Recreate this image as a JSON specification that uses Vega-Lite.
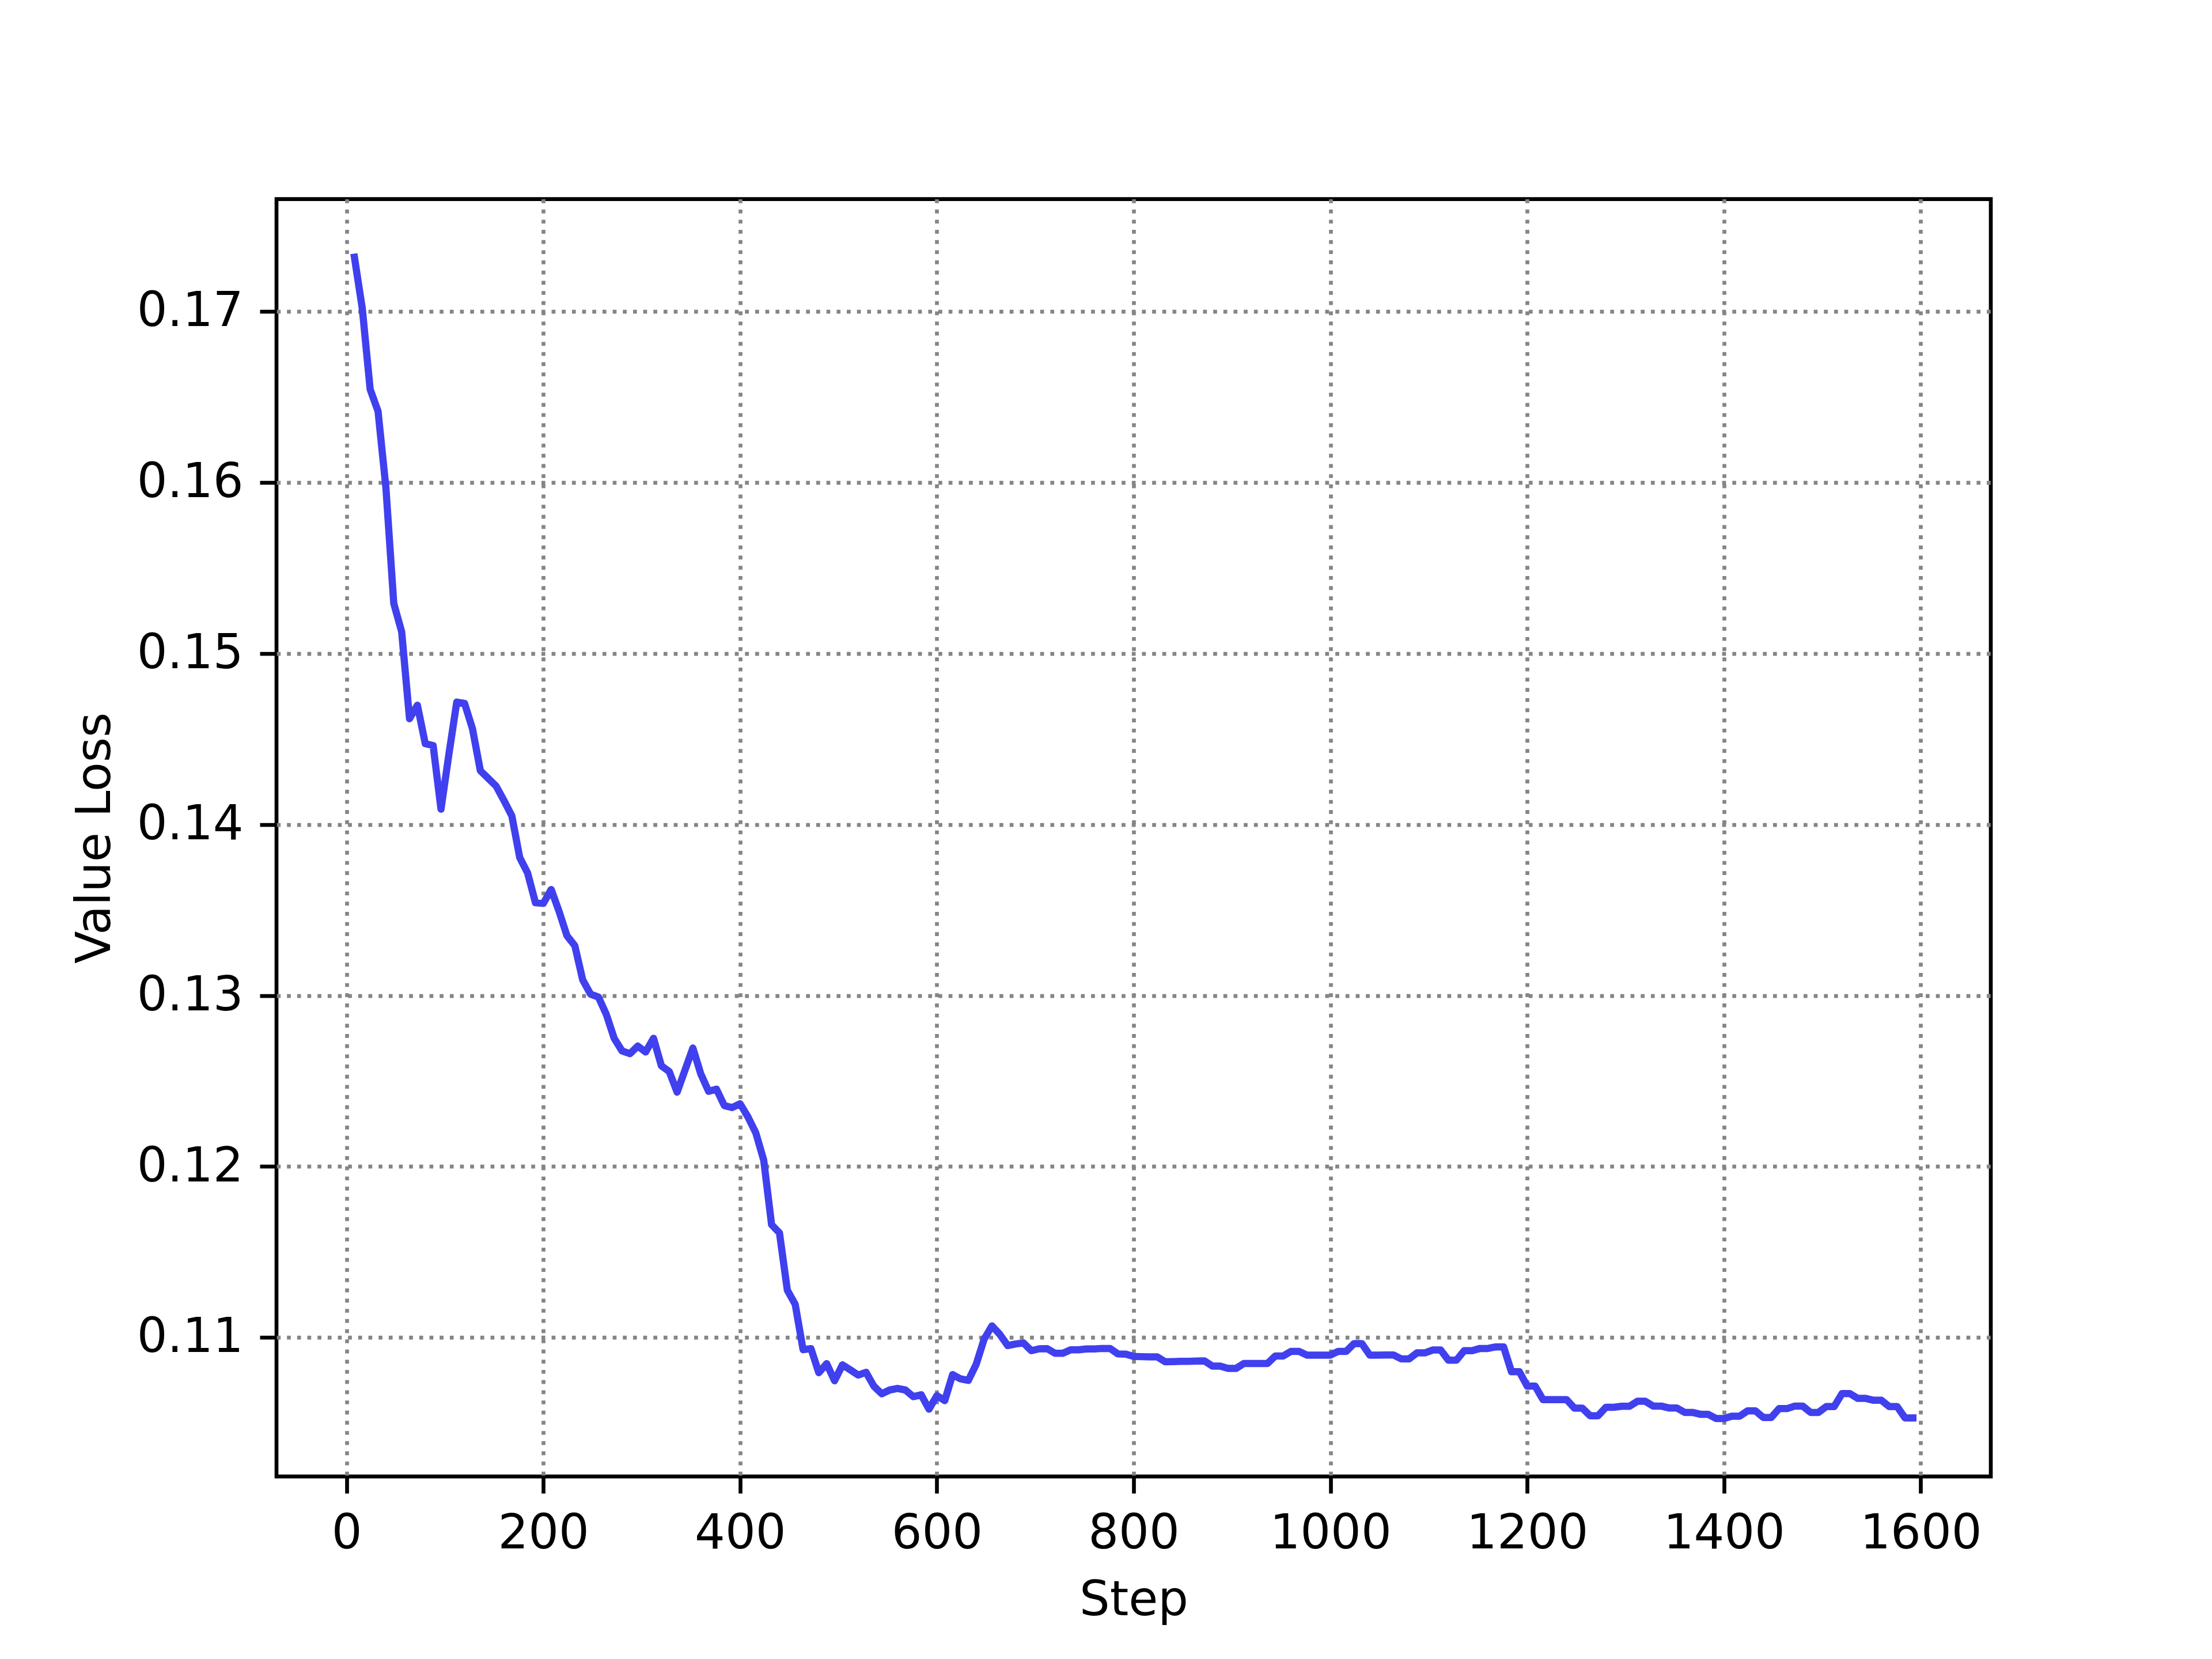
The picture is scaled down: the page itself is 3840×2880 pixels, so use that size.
{
  "$schema": "https://vega.github.io/schema/vega-lite/v6.json",
  "width": 2976,
  "height": 2217.6,
  "autosize": {"type": "none"},
  "padding": {"left": 480, "top": 345.6, "right": 384, "bottom": 316.8},
  "background": "white",
  "config": {
    "view": {"stroke": "black", "strokeWidth": 6.67},
    "font": "DejaVu Sans"
  },
  "data": {
    "values": [
      {"step": 8, "loss": 0.17318}, {"step": 16, "loss": 0.17018}, {"step": 24, "loss": 0.16545}, {"step": 32, "loss": 0.16417},
      {"step": 40, "loss": 0.1597}, {"step": 48, "loss": 0.15293}, {"step": 56, "loss": 0.15128}, {"step": 64, "loss": 0.14619},
      {"step": 72, "loss": 0.14698}, {"step": 80, "loss": 0.14473}, {"step": 88, "loss": 0.14462}, {"step": 96, "loss": 0.1409},
      {"step": 104, "loss": 0.1441}, {"step": 112, "loss": 0.14716}, {"step": 120, "loss": 0.14708}, {"step": 128, "loss": 0.1456},
      {"step": 136, "loss": 0.14315}, {"step": 144, "loss": 0.1427}, {"step": 152, "loss": 0.14225}, {"step": 160, "loss": 0.1414},
      {"step": 168, "loss": 0.14051}, {"step": 176, "loss": 0.13807}, {"step": 184, "loss": 0.13717}, {"step": 192, "loss": 0.13543},
      {"step": 200, "loss": 0.13539}, {"step": 208, "loss": 0.1362}, {"step": 216, "loss": 0.13492}, {"step": 224, "loss": 0.1335},
      {"step": 232, "loss": 0.13292}, {"step": 240, "loss": 0.13092}, {"step": 248, "loss": 0.13008}, {"step": 256, "loss": 0.12991},
      {"step": 264, "loss": 0.1289}, {"step": 272, "loss": 0.1275}, {"step": 280, "loss": 0.12676}, {"step": 288, "loss": 0.1266},
      {"step": 296, "loss": 0.12704}, {"step": 304, "loss": 0.1267}, {"step": 312, "loss": 0.1275}, {"step": 320, "loss": 0.12589},
      {"step": 328, "loss": 0.12555}, {"step": 336, "loss": 0.12435}, {"step": 344, "loss": 0.12564}, {"step": 352, "loss": 0.12693},
      {"step": 360, "loss": 0.12542}, {"step": 368, "loss": 0.1244}, {"step": 376, "loss": 0.12452}, {"step": 384, "loss": 0.12356},
      {"step": 392, "loss": 0.12345}, {"step": 400, "loss": 0.12367}, {"step": 408, "loss": 0.1229}, {"step": 416, "loss": 0.12196},
      {"step": 424, "loss": 0.12037}, {"step": 432, "loss": 0.1166}, {"step": 440, "loss": 0.11612}, {"step": 448, "loss": 0.11277},
      {"step": 456, "loss": 0.11194}, {"step": 464, "loss": 0.10929}, {"step": 472, "loss": 0.10935}, {"step": 480, "loss": 0.10794},
      {"step": 488, "loss": 0.10847}, {"step": 496, "loss": 0.10747}, {"step": 504, "loss": 0.1084}, {"step": 512, "loss": 0.10811},
      {"step": 520, "loss": 0.1078}, {"step": 528, "loss": 0.10796}, {"step": 536, "loss": 0.10715}, {"step": 544, "loss": 0.10671},
      {"step": 552, "loss": 0.10693}, {"step": 560, "loss": 0.10702}, {"step": 568, "loss": 0.10693}, {"step": 576, "loss": 0.10654},
      {"step": 584, "loss": 0.10665}, {"step": 592, "loss": 0.10581}, {"step": 600, "loss": 0.1066}, {"step": 608, "loss": 0.10631},
      {"step": 616, "loss": 0.10783}, {"step": 624, "loss": 0.10758}, {"step": 632, "loss": 0.10749}, {"step": 640, "loss": 0.10844},
      {"step": 648, "loss": 0.1099}, {"step": 656, "loss": 0.11068}, {"step": 664, "loss": 0.11018}, {"step": 672, "loss": 0.10953},
      {"step": 680, "loss": 0.10962}, {"step": 688, "loss": 0.10968}, {"step": 696, "loss": 0.10923}, {"step": 704, "loss": 0.10934},
      {"step": 712, "loss": 0.10935}, {"step": 720, "loss": 0.10908}, {"step": 728, "loss": 0.10908}, {"step": 736, "loss": 0.10928},
      {"step": 744, "loss": 0.10928}, {"step": 752, "loss": 0.10933}, {"step": 760, "loss": 0.10933}, {"step": 768, "loss": 0.10936},
      {"step": 776, "loss": 0.10936}, {"step": 784, "loss": 0.10904}, {"step": 792, "loss": 0.10903}, {"step": 800, "loss": 0.10889},
      {"step": 808, "loss": 0.10888}, {"step": 816, "loss": 0.10887}, {"step": 824, "loss": 0.10887}, {"step": 832, "loss": 0.10858},
      {"step": 840, "loss": 0.10859}, {"step": 848, "loss": 0.10861}, {"step": 856, "loss": 0.10861}, {"step": 864, "loss": 0.10862},
      {"step": 872, "loss": 0.10863}, {"step": 880, "loss": 0.10833}, {"step": 888, "loss": 0.10833}, {"step": 896, "loss": 0.10819},
      {"step": 904, "loss": 0.10819}, {"step": 912, "loss": 0.10848}, {"step": 920, "loss": 0.10848}, {"step": 928, "loss": 0.10848},
      {"step": 936, "loss": 0.10848}, {"step": 944, "loss": 0.10892}, {"step": 952, "loss": 0.10892}, {"step": 960, "loss": 0.10919},
      {"step": 968, "loss": 0.10919}, {"step": 976, "loss": 0.10897}, {"step": 984, "loss": 0.10897}, {"step": 992, "loss": 0.10897},
      {"step": 1000, "loss": 0.10897}, {"step": 1008, "loss": 0.10919}, {"step": 1016, "loss": 0.10919}, {"step": 1024, "loss": 0.10964},
      {"step": 1032, "loss": 0.10964}, {"step": 1040, "loss": 0.10897}, {"step": 1048, "loss": 0.10897}, {"step": 1056, "loss": 0.10898},
      {"step": 1064, "loss": 0.10898}, {"step": 1072, "loss": 0.10875}, {"step": 1080, "loss": 0.10875}, {"step": 1088, "loss": 0.1091},
      {"step": 1096, "loss": 0.1091}, {"step": 1104, "loss": 0.10927}, {"step": 1112, "loss": 0.10927}, {"step": 1120, "loss": 0.10867},
      {"step": 1128, "loss": 0.10867}, {"step": 1136, "loss": 0.10923}, {"step": 1144, "loss": 0.10923}, {"step": 1152, "loss": 0.10936},
      {"step": 1160, "loss": 0.10936}, {"step": 1168, "loss": 0.10945}, {"step": 1176, "loss": 0.10945}, {"step": 1184, "loss": 0.108},
      {"step": 1192, "loss": 0.108}, {"step": 1200, "loss": 0.10716}, {"step": 1208, "loss": 0.10716}, {"step": 1216, "loss": 0.10637},
      {"step": 1224, "loss": 0.10637}, {"step": 1232, "loss": 0.10637}, {"step": 1240, "loss": 0.10637}, {"step": 1248, "loss": 0.10587},
      {"step": 1256, "loss": 0.10587}, {"step": 1264, "loss": 0.10542}, {"step": 1272, "loss": 0.10542}, {"step": 1280, "loss": 0.10592},
      {"step": 1288, "loss": 0.10592}, {"step": 1296, "loss": 0.10598}, {"step": 1304, "loss": 0.10598}, {"step": 1312, "loss": 0.10627},
      {"step": 1320, "loss": 0.10627}, {"step": 1328, "loss": 0.10599}, {"step": 1336, "loss": 0.10599}, {"step": 1344, "loss": 0.10588},
      {"step": 1352, "loss": 0.10588}, {"step": 1360, "loss": 0.10562}, {"step": 1368, "loss": 0.10562}, {"step": 1376, "loss": 0.10551},
      {"step": 1384, "loss": 0.10551}, {"step": 1392, "loss": 0.10526}, {"step": 1400, "loss": 0.10526}, {"step": 1408, "loss": 0.1054},
      {"step": 1416, "loss": 0.1054}, {"step": 1424, "loss": 0.10571}, {"step": 1432, "loss": 0.10571}, {"step": 1440, "loss": 0.10532},
      {"step": 1448, "loss": 0.10532}, {"step": 1456, "loss": 0.10584}, {"step": 1464, "loss": 0.10584}, {"step": 1472, "loss": 0.10599},
      {"step": 1480, "loss": 0.10599}, {"step": 1488, "loss": 0.10562}, {"step": 1496, "loss": 0.10562}, {"step": 1504, "loss": 0.10596},
      {"step": 1512, "loss": 0.10596}, {"step": 1520, "loss": 0.10672}, {"step": 1528, "loss": 0.10672}, {"step": 1536, "loss": 0.10644},
      {"step": 1544, "loss": 0.10644}, {"step": 1552, "loss": 0.10633}, {"step": 1560, "loss": 0.10633}, {"step": 1568, "loss": 0.10596},
      {"step": 1576, "loss": 0.10596}, {"step": 1584, "loss": 0.1053}, {"step": 1592, "loss": 0.1053}
    ]
  },
  "mark": {"type": "line", "color": "#4040EE", "strokeWidth": 12.5, "strokeCap": "square", "strokeJoin": "round"},
  "encoding": {
    "x": {
      "field": "step", "type": "quantitative",
      "scale": {"domain": [-71.2, 1671.2], "nice": false, "zero": false},
      "axis": {
        "values": [0, 200, 400, 600, 800, 1000, 1200, 1400, 1600],
        "format": "d",
        "title": "Step",
        "grid": true, "gridColor": "#858585", "gridDash": [6.67, 11], "gridWidth": 6.67,
        "domain": false,
        "ticks": true, "tickSize": 29, "tickWidth": 6.67, "tickColor": "black",
        "labelFont": "DejaVu Sans", "labelFontSize": 83, "labelColor": "black", "labelPadding": 29,
        "labelFlush": false, "labelOverlap": false, "labelLimit": 2000,
        "titleFont": "DejaVu Sans", "titleFontSize": 83, "titleFontWeight": "normal", "titleColor": "black", "titlePadding": 33
      }
    },
    "y": {
      "field": "loss", "type": "quantitative",
      "scale": {"domain": [0.10187, 0.17658], "nice": false, "zero": false},
      "axis": {
        "values": [0.11, 0.12, 0.13, 0.14, 0.15, 0.16, 0.17],
        "format": ".2f",
        "title": "Value Loss",
        "grid": true, "gridColor": "#858585", "gridDash": [6.67, 11], "gridWidth": 6.67,
        "domain": false,
        "ticks": true, "tickSize": 29, "tickWidth": 6.67, "tickColor": "black",
        "labelFont": "DejaVu Sans", "labelFontSize": 83, "labelColor": "black", "labelPadding": 29,
        "labelFlush": false, "labelOverlap": false, "labelLimit": 2000,
        "titleFont": "DejaVu Sans", "titleFontSize": 83, "titleFontWeight": "normal", "titleColor": "black",
        "titleX": -290, "titleY": 1108.8, "titleBaseline": "alphabetic", "titleAngle": -90, "titleAlign": "center"
      }
    }
  }
}
